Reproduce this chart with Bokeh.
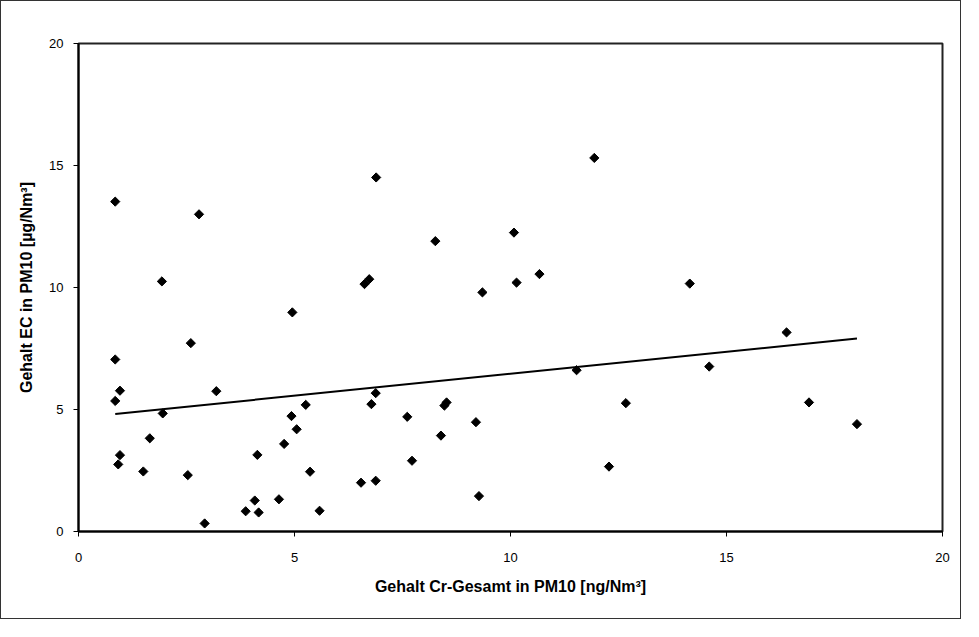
import numpy as np
from bokeh.plotting import figure
from bokeh.models import Range1d, FixedTicker
from bokeh.embed import file_html
from bokeh.resources import INLINE

# data: Gehalt Cr-Gesamt (ng/Nm3) vs Gehalt EC (ug/Nm3)
cr = [0.85, 2.79, 1.93, 6.62, 6.73, 6.89, 11.94, 8.26, 10.08, 10.14, 10.67, 9.35,
      11.53, 6.88, 6.78, 8.52, 8.47, 12.67, 7.61, 9.20, 8.39, 7.72, 6.88, 6.54,
      12.28, 9.27, 4.95, 2.60, 0.85, 0.96, 3.19, 0.85, 1.95, 5.26, 4.93, 5.05,
      1.65, 4.76, 4.14, 0.96, 0.92, 1.50, 2.53, 5.36, 4.08, 4.64, 3.87, 4.17,
      5.58, 2.92, 14.15, 16.39, 14.60, 16.91, 18.02]
ec = [13.52, 13.00, 10.25, 10.14, 10.34, 14.51, 15.31, 11.90, 12.25, 10.20, 10.55, 9.80,
      6.61, 5.67, 5.22, 5.29, 5.16, 5.26, 4.70, 4.48, 3.93, 2.90, 2.08, 2.00,
      2.66, 1.45, 8.98, 7.72, 7.05, 5.77, 5.75, 5.35, 4.84, 5.19, 4.73, 4.19,
      3.82, 3.59, 3.14, 3.13, 2.75, 2.46, 2.31, 2.45, 1.27, 1.32, 0.83, 0.78,
      0.85, 0.33, 10.16, 8.16, 6.76, 5.29, 4.40]
ticks = [0, 5, 10, 15, 20]
x_title = "Gehalt Cr-Gesamt in PM10 [ng/Nm³]"
y_title = "Gehalt EC in PM10 [µg/Nm³]"

slope, intercept = np.polyfit(cr, ec, 1)
fx = [min(cr), max(cr)]
fy = [intercept + slope * v for v in fx]

FONT = "Liberation Sans"

p = figure(width=961, height=619, output_backend="svg", toolbar_location=None,
           x_range=Range1d(0, 20), y_range=Range1d(0, 20),
           min_border_left=77, min_border_top=42, min_border_right=20, min_border_bottom=89)
p.styles = {"border": "1px solid #333"}

p.line(fx, fy, line_color="black", line_width=2)
p.scatter(cr, ec, marker="square", angle=np.pi / 4, size=6.5,
          fill_color="black", line_color="black")

p.grid.visible = False
p.outline_line_color = "#222"
p.outline_line_width = 2
for ax in (p.xaxis[0], p.yaxis[0]):
    ax.ticker = FixedTicker(ticks=ticks)
    ax.minor_tick_line_color = None
    ax.major_tick_in = 0
    ax.major_tick_out = 5
    ax.axis_line_width = 2
    ax.axis_line_color = "black"
    ax.major_tick_line_color = "black"
    ax.major_label_text_font = FONT
    ax.major_label_text_font_size = "13px"
    ax.major_label_text_color = "black"
    ax.axis_label_text_font = FONT
    ax.axis_label_text_font_style = "bold"
    ax.axis_label_text_font_size = "16px"
    ax.axis_label_text_color = "black"

p.xaxis.axis_label = x_title
p.yaxis.axis_label = y_title
p.xaxis.major_label_standoff = 16
p.xaxis.axis_label_standoff = 13
p.yaxis.major_label_standoff = 10
p.yaxis.axis_label_standoff = 11

open("out.html", "w").write(file_html(p, INLINE))
